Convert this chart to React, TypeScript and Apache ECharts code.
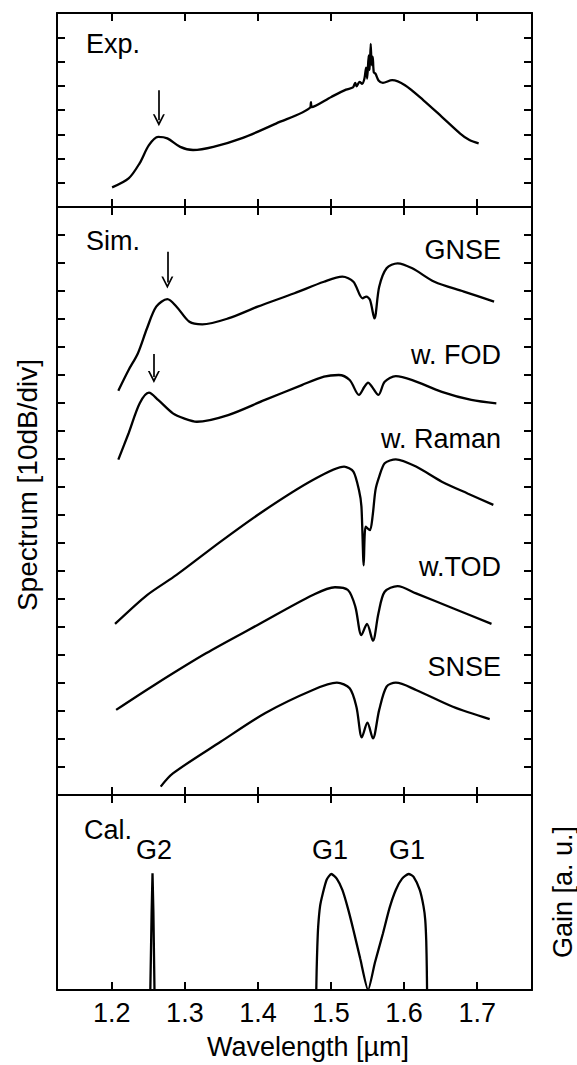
import React, { useEffect, useRef } from 'react';
import * as echarts from 'echarts';

const FONT = '"Liberation Sans", Arial, Helvetica, sans-serif';
const X_MIN = 1.125;
const X_MAX = 1.775;
const X_TICKS = [1.2, 1.3, 1.4, 1.5, 1.6, 1.7];

// Experimental spectrum (top panel, units of divisions)
const expSpectrum = [
  [1.2004, 0.81], [1.223, 1.18], [1.238, 1.8], [1.2508, 2.55], [1.2634, 2.89],
  [1.276, 2.83], [1.2936, 2.48], [1.3112, 2.35], [1.339, 2.48], [1.3793, 2.85],
  [1.4247, 3.44], [1.4715, 4.1], [1.4725, 4.32], [1.4735, 4.12], [1.5003, 4.54],
  [1.5205, 4.84], [1.53, 4.93], [1.533, 5.12], [1.535, 4.98], [1.539, 5.16],
  [1.5425, 5.08], [1.5457, 5.3], [1.548, 5.75], [1.5495, 5.3], [1.5515, 6.25],
  [1.5528, 5.65], [1.5543, 6.73], [1.5556, 5.85], [1.557, 6.2], [1.5585, 5.55],
  [1.5608, 5.5], [1.565, 5.22], [1.571, 5.12], [1.5836, 5.23], [1.6012, 5.02],
  [1.6265, 4.4], [1.6516, 3.72], [1.6767, 3.03], [1.6894, 2.76], [1.702, 2.62],
];

// Simulated spectra (middle panel, units of divisions)
const gnse = [
  [1.2089, 14.44], [1.223, 15.18], [1.2356, 15.77], [1.2482, 16.67], [1.2608, 17.44],
  [1.276, 17.71], [1.2886, 17.44], [1.3062, 16.9], [1.3238, 16.81], [1.3592, 17.02],
  [1.3995, 17.44], [1.4499, 17.92], [1.4903, 18.33], [1.5155, 18.51], [1.5306, 18.33],
  [1.5432, 17.74], [1.5482, 17.8], [1.5533, 17.68], [1.5594, 17.02], [1.5659, 18.15],
  [1.576, 18.81], [1.5911, 18.99], [1.6112, 18.81], [1.6415, 18.33], [1.6818, 17.98],
  [1.7231, 17.62],
];
const withFOD = [
  [1.2089, 11.98], [1.223, 12.92], [1.2382, 13.99], [1.2508, 14.37], [1.2634, 14.11],
  [1.2836, 13.63], [1.2987, 13.45], [1.3163, 13.33], [1.3592, 13.57], [1.4096, 14.11],
  [1.46, 14.64], [1.4903, 14.94], [1.5105, 15.0], [1.5255, 14.82], [1.5382, 14.29],
  [1.5457, 14.58], [1.5507, 14.73], [1.5555, 14.6], [1.5649, 14.29], [1.5734, 14.76],
  [1.5886, 14.96], [1.6112, 14.82], [1.6516, 14.4], [1.692, 14.11], [1.7262, 13.99],
];
const withRaman = [
  [1.2044, 6.11], [1.2482, 7.14], [1.2886, 7.86], [1.3489, 9.05], [1.4096, 10.18],
  [1.4751, 11.25], [1.5179, 11.73], [1.5306, 11.55], [1.5382, 10.89], [1.5416, 10.3],
  [1.5447, 8.2], [1.5473, 9.58], [1.5533, 9.46], [1.5568, 9.94], [1.5608, 10.89],
  [1.5659, 11.37], [1.5734, 11.85], [1.5886, 11.99], [1.6163, 11.73], [1.6516, 11.19],
  [1.6868, 10.77], [1.7221, 10.36],
];
const withTOD = [
  [1.2059, 3.04], [1.2583, 3.93], [1.3289, 5.06], [1.3995, 6.07], [1.4751, 7.14],
  [1.5054, 7.42], [1.5231, 7.32], [1.5332, 6.73], [1.5416, 5.71], [1.5492, 6.11],
  [1.5573, 5.51], [1.5649, 6.49], [1.5734, 7.26], [1.5911, 7.46], [1.6163, 7.2],
  [1.6667, 6.67], [1.7196, 6.11],
];
const snse = [
  [1.2669, 0.3], [1.2836, 0.77], [1.3489, 1.9], [1.4096, 2.92], [1.4751, 3.75],
  [1.508, 4.01], [1.5255, 3.81], [1.5347, 3.15], [1.5422, 2.06], [1.5498, 2.58],
  [1.5573, 2.02], [1.5659, 3.04], [1.576, 3.87], [1.5886, 4.01], [1.6163, 3.75],
  [1.6667, 3.15], [1.7171, 2.71],
];

// Calculated gain (bottom panel, a.u.)
const gainG2 = [
  [1.2527, 0], [1.2545, 0.4], [1.2557, 0.598], [1.2569, 0.4], [1.2584, 0],
];
const gainG1 = [
  [1.4798, 0], [1.4803, 0.1], [1.4812, 0.22], [1.4824, 0.325], [1.485, 0.43],
  [1.4888, 0.496], [1.494, 0.565], [1.5003, 0.595], [1.508, 0.57], [1.5155, 0.513],
  [1.523, 0.42], [1.5306, 0.308], [1.54, 0.16], [1.5507, 0],
  [1.56, 0.14], [1.571, 0.29], [1.58, 0.42], [1.5886, 0.513], [1.597, 0.57],
  [1.6062, 0.595], [1.613, 0.58], [1.6214, 0.513], [1.6265, 0.43], [1.6289, 0.36],
  [1.6303, 0.25], [1.631, 0.12], [1.6314, 0],
];

// Arrows marking the dispersive wave peaks [wavelength, from, to]
const expArrow = [1.2644, 4.81, 3.58];
const gnseArrow = [1.276, 19.4, 18.3];
const fodArrow = [1.2576, 15.75, 14.93];

const BLACK = '#000';
const AXIS_W = 2;
const ARROW_PATH = 'path://M5,0 L10,10 L8.5,10 L5,3.2 L1.5,10 L0,10 Z';

export default function App() {
  const ref = useRef<HTMLDivElement>(null);

  useEffect(() => {
    const chart = echarts.init(ref.current as HTMLDivElement, null, { renderer: 'svg' });

    const grids = [
      { left: 57, width: 475, top: 13, height: 194 },
      { left: 57, width: 475, top: 207, height: 588 },
      { left: 57, width: 475, top: 795, height: 195 },
    ];

    const lineStyle = { color: BLACK, width: AXIS_W };

    const makeX = (gridIndex: number, position: string, labels: boolean) => ({
      type: 'value',
      gridIndex,
      position,
      min: X_MIN,
      max: X_MAX,
      axisLine: { show: true, onZero: false, lineStyle },
      axisTick: { show: true, inside: true, length: 8, customValues: X_TICKS, lineStyle },
      axisLabel: {
        show: labels,
        customValues: X_TICKS,
        formatter: (v: number) => v.toFixed(1),
        color: BLACK,
        fontSize: 27,
        fontFamily: FONT,
        margin: 9,
      },
      splitLine: { show: false },
    });

    const makeY = (gridIndex: number, position: string, max: number, ticks: boolean) => ({
      type: 'value',
      gridIndex,
      position,
      min: 0,
      max,
      interval: 1,
      axisLine: { show: true, onZero: false, lineStyle },
      axisTick: { show: ticks, inside: true, length: 8, lineStyle },
      axisLabel: { show: false },
      splitLine: { show: false },
    });

    const arrowMark = (a: number[]) => ({
      silent: true,
      animation: false,
      symbol: ['none', ARROW_PATH],
      symbolSize: [12, 12],
      label: { show: false },
      lineStyle: { color: BLACK, width: 1.7, type: 'solid' },
      emphasis: { disabled: true },
      data: [[{ coord: [a[0], a[1]] }, { coord: [a[0], a[2]] }]],
    });

    const curve = (name: string, data: number[][], g: number, smooth: number | boolean, mark?: number[]) => ({
      name,
      type: 'line',
      xAxisIndex: 2 * g,
      yAxisIndex: 2 * g,
      data,
      smooth,
      showSymbol: false,
      symbol: 'none',
      lineStyle: { color: BLACK, width: 2.3 },
      itemStyle: { color: BLACK },
      emphasis: { disabled: true },
      silent: true,
      ...(mark ? { markLine: arrowMark(mark) } : {}),
    });

    const txt = (text: string, x: number, y: number, align: string, size = 27, rotation = 0) => ({
      type: 'text',
      x,
      y,
      rotation,
      silent: true,
      style: {
        text,
        fill: BLACK,
        fontSize: size,
        fontFamily: FONT,
        align,
        verticalAlign: 'middle',
        textAlign: align,
        textVerticalAlign: 'middle',
      },
    });

    const option = {
      animation: false,
      backgroundColor: '#fff',
      grid: grids,
      xAxis: [
        makeX(0, 'bottom', false), makeX(0, 'top', false),
        makeX(1, 'bottom', false), makeX(1, 'top', false),
        makeX(2, 'bottom', true), makeX(2, 'top', false),
      ],
      yAxis: [
        makeY(0, 'left', 8, true), makeY(0, 'right', 8, true),
        makeY(1, 'left', 21, true), makeY(1, 'right', 21, true),
        makeY(2, 'left', 1, false), makeY(2, 'right', 1, false),
      ],
      series: [
        curve('Exp.', expSpectrum, 0, 0.3, expArrow),
        curve('GNSE', gnse, 1, 0.3, gnseArrow),
        curve('w. FOD', withFOD, 1, 0.3, fodArrow),
        curve('w. Raman', withRaman, 1, 0.25),
        curve('w.TOD', withTOD, 1, 0.3),
        curve('SNSE', snse, 1, 0.3),
        curve('G2', gainG2, 2, false),
        curve('G1', gainG1, 2, 0.2),
      ],
      graphic: [
        txt('Exp.', 86, 44, 'left'),
        txt('Sim.', 86, 241, 'left'),
        txt('GNSE', 501, 250, 'right'),
        txt('w. FOD', 501, 355, 'right'),
        txt('w. Raman', 501, 439, 'right'),
        txt('w.TOD', 501, 567, 'right'),
        txt('SNSE', 501, 667, 'right'),
        txt('Cal.', 84, 830, 'left'),
        txt('G2', 154, 850, 'center'),
        txt('G1', 330, 850, 'center'),
        txt('G1', 407, 850, 'center'),
        txt('Wavelength [µm]', 308, 1047, 'center'),
        txt('Spectrum [10dB/div]', 27, 485, 'center', 28, Math.PI / 2),
        txt('Gain [a. u.]', 563, 892, 'center', 27, Math.PI / 2),
      ],
    };

    chart.setOption(option as any);
    return () => chart.dispose();
  }, []);

  return (
    <div
      ref={ref}
      style={{ position: 'absolute', left: 0, top: 0, width: 577, height: 1065, background: '#fff' }}
    />
  );
}
